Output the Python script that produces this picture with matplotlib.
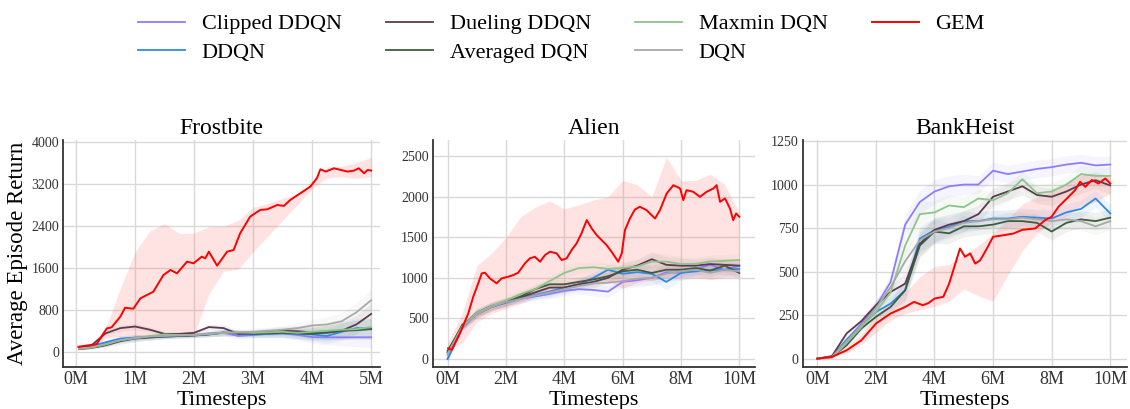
import numpy as np
import matplotlib
matplotlib.use("Agg")
import matplotlib.pyplot as plt

plt.rcParams["font.family"] = "serif"
plt.rcParams["font.serif"] = ["Liberation Serif", "DejaVu Serif"]

# Kleuren per methode
COLORS = {
    "Clipped DDQN": "#8b7dff",
    "DDQN": "#2f8ae6",
    "Dueling DDQN": "#5e3a4e",
    "Averaged DQN": "#3e5c3e",
    "Maxmin DQN": "#8cc48c",
    "DQN": "#a8a8a8",
    "GEM": "#ff0000",
}
BASELINES = ["Clipped DDQN", "DDQN", "Dueling DDQN", "Averaged DQN", "Maxmin DQN", "DQN"]

# ---------------- Frostbite (0-5M) ----------------
FB_X = [0.05, 0.25, 0.5, 0.75, 1.0, 1.25, 1.5, 1.75, 2.0, 2.25, 2.5,
        2.75, 3.0, 3.25, 3.5, 3.75, 4.0, 4.25, 4.5, 4.75, 5.0]
FB_CLIPPED = [80, 100, 170, 240, 265, 275, 285, 300, 320, 350, 360, 300, 320, 340, 350, 320, 280, 275, 275, 275, 275]
FB_DDQN = [90, 100, 180, 250, 270, 280, 290, 300, 310, 330, 370, 340, 330, 340, 350, 340, 330, 300, 380, 450, 440]
FB_DUELING = [70, 110, 350, 450, 480, 420, 340, 340, 360, 470, 450, 340, 360, 380, 400, 390, 370, 360, 400, 520, 720]
FB_AVERAGED = [50, 70, 120, 200, 250, 270, 290, 300, 310, 330, 360, 360, 340, 350, 360, 350, 340, 370, 400, 410, 430]
FB_MAXMIN = [60, 80, 140, 220, 260, 300, 330, 320, 320, 340, 360, 370, 360, 370, 380, 360, 380, 400, 420, 430, 470]
FB_DQN = [60, 80, 140, 220, 260, 290, 300, 310, 320, 340, 360, 370, 380, 400, 420, 450, 500, 520, 580, 750, 980]
FB_SPREAD = [10, 20, 40, 60, 60, 50, 40, 40, 40, 50, 60, 60, 60, 70, 80, 100, 120, 140, 160, 180, 200]
FB_GEM_LO = [60, 70, 250, 290, 300, 300, 310, 320, 320, 1100, 1530, 1570, 1900, 2200, 2500, 2800, 3100, 3310, 3330, 3300, 3330]
FB_GEM_HI = [100, 150, 450, 1200, 1900, 2300, 2440, 2250, 2260, 2380, 2390, 2500, 2750, 2820, 2920, 3000, 3250, 3520, 3530, 3600, 3700]
FB_GEM_X = [0.04, 0.35, 0.52, 0.6, 0.75, 0.83, 0.97, 1.09, 1.2, 1.31, 1.48, 1.6, 1.71, 1.88, 1.99,
            2.13, 2.19, 2.25, 2.39, 2.56, 2.67, 2.78, 2.95, 3.12, 3.24, 3.41, 3.52, 3.63, 3.8, 3.97,
            4.08, 4.14, 4.23, 4.37, 4.6, 4.71, 4.79, 4.88, 4.94, 5.0]
FB_GEM = [95, 146, 444, 463, 667, 838, 819, 1016, 1080, 1143, 1460, 1556, 1492, 1714, 1683,
          1810, 1778, 1905, 1638, 1905, 1937, 2254, 2572, 2699, 2711, 2794, 2775, 2889, 3016, 3143,
          3302, 3473, 3429, 3492, 3429, 3448, 3492, 3397, 3460, 3448]

# ---------------- Alien (0-10M) ----------------
AL_X = [0.0, 0.5, 1.0, 1.5, 2.0, 2.5, 3.0, 3.5, 4.0, 4.5, 5.0,
        5.5, 6.0, 6.5, 7.0, 7.5, 8.0, 8.5, 9.0, 9.5, 10.0]
AL_CLIPPED = [0, 380, 560, 640, 690, 740, 770, 800, 840, 860, 850, 830, 950, 970, 1000, 1070, 1060, 1110, 1160, 1100, 1150]
AL_DDQN = [0, 380, 560, 650, 700, 750, 790, 830, 880, 920, 1000, 1100, 1050, 1070, 1050, 950, 1060, 1080, 1090, 1100, 1110]
AL_DUELING = [100, 400, 570, 650, 700, 760, 820, 880, 880, 920, 950, 1000, 1100, 1150, 1230, 1160, 1150, 1150, 1170, 1160, 1150]
AL_AVERAGED = [80, 420, 550, 640, 700, 770, 860, 920, 920, 950, 980, 1020, 1080, 1100, 1060, 1100, 1100, 1120, 1090, 1150, 1060]
AL_MAXMIN = [60, 400, 570, 650, 720, 800, 860, 960, 1060, 1120, 1130, 1110, 1120, 1140, 1200, 1200, 1170, 1170, 1200, 1210, 1220]
AL_DQN = [50, 390, 550, 640, 700, 740, 780, 820, 860, 900, 930, 940, 960, 990, 1000, 1050, 1080, 1100, 1060, 1100, 1080]
AL_SPREAD = [30, 40, 50, 50, 50, 50, 50, 60, 60, 60, 70, 70, 80, 80, 90, 100, 90, 80, 80, 80, 80]
AL_GEM_LO = [100, 200, 450, 560, 620, 680, 760, 820, 870, 920, 950, 970, 870, 940, 970, 1000, 1010, 1000, 980, 1000, 1010]
AL_GEM_HI = [200, 560, 1150, 1300, 1500, 1750, 1870, 1950, 1850, 1900, 1960, 2000, 2200, 2150, 2000, 2490, 2200, 2200, 2280, 2150, 1800]
AL_GEM_X = [0.02, 0.14, 0.42, 0.71, 0.88, 1.05, 1.17, 1.28, 1.45, 1.68, 1.85, 2.08, 2.25, 2.42, 2.65,
            2.82, 2.99, 3.17, 3.34, 3.51, 3.74, 3.91, 4.08, 4.25, 4.42, 4.59, 4.77, 4.94, 5.11, 5.28,
            5.45, 5.62, 5.85, 5.97, 6.08, 6.25, 6.42, 6.59, 6.82, 7.11, 7.28, 7.51, 7.74, 7.97, 8.08,
            8.19, 8.42, 8.65, 8.88, 9.11, 9.22, 9.34, 9.51, 9.68, 9.79, 9.89, 10.0]
AL_GEM = [131, 111, 316, 562, 768, 932, 1055, 1063, 993, 932, 993, 1014, 1034, 1063, 1178,
          1240, 1260, 1199, 1281, 1322, 1301, 1219, 1240, 1342, 1424, 1548, 1712, 1609, 1527, 1465,
          1404, 1322, 1199, 1301, 1589, 1732, 1843, 1876, 1835, 1732, 1835, 2040, 2143, 2102, 1958,
          2081, 2061, 1999, 2061, 2102, 2143, 1938, 1979, 1855, 1712, 1794, 1753]

# ---------------- BankHeist (0-10M) ----------------
BH_X = AL_X
BH_CLIPPED = [0, 10, 105, 200, 300, 440, 770, 900, 960, 990, 1000, 1000, 1080, 1060, 1075, 1090, 1100, 1115, 1125, 1110, 1115]
BH_DDQN = [0, 10, 110, 190, 268, 316, 393, 690, 738, 757, 790, 790, 805, 805, 815, 810, 805, 840, 860, 920, 834]
BH_DUELING = [0, 15, 145, 215, 307, 383, 431, 660, 740, 770, 790, 830, 930, 960, 990, 940, 930, 960, 1000, 1025, 995]
BH_AVERAGED = [0, 10, 77, 173, 240, 297, 393, 650, 730, 720, 760, 760, 770, 790, 790, 780, 730, 780, 800, 790, 810]
BH_MAXMIN = [0, 5, 90, 180, 270, 380, 650, 830, 840, 880, 870, 920, 910, 950, 1030, 950, 960, 1000, 1060, 1050, 1050]
BH_DQN = [0, 10, 100, 190, 290, 410, 560, 680, 730, 750, 780, 790, 800, 800, 810, 800, 790, 800, 790, 760, 790]
BH_SPREAD = [0, 5, 15, 20, 30, 40, 60, 70, 70, 60, 60, 50, 50, 50, 50, 50, 50, 50, 50, 50, 50]
BH_GEM_LO = [0, 5, 30, 80, 150, 220, 260, 280, 300, 330, 400, 360, 330, 480, 620, 720, 780, 820, 880, 900, 950]
BH_GEM_HI = [0, 15, 70, 140, 250, 330, 380, 470, 530, 540, 600, 650, 720, 800, 890, 930, 960, 1000, 1070, 1060, 1050]
BH_GEM_X = [0, 0.5, 1.0, 1.5, 2.0, 2.5, 3.0, 3.3, 3.6, 3.8, 4.0, 4.3, 4.5, 4.7, 4.87, 5.04, 5.22, 5.39,
            5.56, 5.79, 6.0, 6.36, 6.7, 7.0, 7.44, 7.78, 8.0, 8.23, 8.58, 8.8, 8.97, 9.15, 9.37, 9.6, 9.83, 10.0]
BH_GEM = [0, 10, 48, 105, 201, 259, 297, 326, 307, 320, 345, 355, 431, 540, 633, 585, 604, 546,
          565, 633, 700, 709, 719, 740, 748, 796, 815, 872, 930, 968, 1016, 987, 1026, 1006, 1035, 1006]

PANELS = [
    dict(title="Frostbite", x=FB_X,
         series=[FB_CLIPPED, FB_DDQN, FB_DUELING, FB_AVERAGED, FB_MAXMIN, FB_DQN],
         spread=FB_SPREAD, gem_x=FB_GEM_X, gem=FB_GEM, lo=FB_GEM_LO, hi=FB_GEM_HI,
         xticks=[0, 1, 2, 3, 4, 5], yticks=[0, 800, 1600, 2400, 3200, 4000],
         xlim=(-0.22, 5.15), ylim=(-290, 4030), rect=[0.0558, 0.1027, 0.2805, 0.555]),
    dict(title="Alien", x=AL_X,
         series=[AL_CLIPPED, AL_DDQN, AL_DUELING, AL_AVERAGED, AL_MAXMIN, AL_DQN],
         spread=AL_SPREAD, gem_x=AL_GEM_X, gem=AL_GEM, lo=AL_GEM_LO, hi=AL_GEM_HI,
         xticks=[0, 2, 4, 6, 8, 10], yticks=[0, 500, 1000, 1500, 2000, 2500],
         xlim=(-0.5, 10.54), ylim=(-100, 2700), rect=[0.3832, 0.1027, 0.285, 0.555]),
    dict(title="BankHeist", x=BH_X,
         series=[BH_CLIPPED, BH_DDQN, BH_DUELING, BH_AVERAGED, BH_MAXMIN, BH_DQN],
         spread=BH_SPREAD, gem_x=BH_GEM_X, gem=BH_GEM, lo=BH_GEM_LO, hi=BH_GEM_HI,
         xticks=[0, 2, 4, 6, 8, 10], yticks=[0, 250, 500, 750, 1000, 1250],
         xlim=(-0.49, 10.57), ylim=(-48, 1256), rect=[0.7106, 0.1027, 0.2867, 0.555]),
]

fig = plt.figure(figsize=(11.3, 4.09), dpi=100)
handles = {}

for i, p in enumerate(PANELS):
    ax = fig.add_axes(p["rect"])
    x = np.array(p["x"])
    spread = np.array(p["spread"])
    for name, vals in zip(BASELINES, p["series"]):
        vals = np.array(vals)
        ax.fill_between(x, vals - spread, vals + spread, color=COLORS[name], alpha=0.08, lw=0)
    ax.fill_between(x, p["lo"], p["hi"], color="#f66", alpha=0.18, lw=0)
    for name, vals in zip(BASELINES, p["series"]):
        line, = ax.plot(x, vals, color=COLORS[name], lw=1.3, label=name)
        handles[name] = line
    line, = ax.plot(p["gem_x"], p["gem"], color=COLORS["GEM"], lw=1.4, label="GEM")
    handles["GEM"] = line

    ax.set_xlim(*p["xlim"])
    ax.set_ylim(*p["ylim"])
    ax.set_xticks(p["xticks"])
    ax.set_xticklabels([f"{t}M" for t in p["xticks"]], fontsize=13)
    ax.set_yticks(p["yticks"])
    ax.set_yticklabels([str(t) for t in p["yticks"]], fontsize=10)
    ax.grid(True, color="#d9d9d9", lw=1.0)
    ax.set_axisbelow(True)
    ax.tick_params(length=0, pad=3, colors="#333333")
    for s in ["top", "right"]:
        ax.spines[s].set_visible(False)
    for s in ["left", "bottom"]:
        ax.spines[s].set_color("#333333")
        ax.spines[s].set_linewidth(1.3)
    ax.set_title(p["title"], fontsize=17, pad=4)
    ax.set_xlabel("Timesteps", fontsize=16, labelpad=2)
    if i == 0:
        ax.set_ylabel("Average Episode Return", fontsize=16.5, labelpad=2)

order = ["Clipped DDQN", "DDQN", "Dueling DDQN", "Averaged DQN", "Maxmin DQN", "DQN", "GEM"]
leg = fig.legend([handles[k] for k in order], order, loc="upper center",
                 bbox_to_anchor=(0.497, 1.015), ncol=4, frameon=False, fontsize=16,
                 handlelength=2.1, handletextpad=0.75, columnspacing=2.0, labelspacing=0.35)

fig.savefig("out.png", dpi=100)
